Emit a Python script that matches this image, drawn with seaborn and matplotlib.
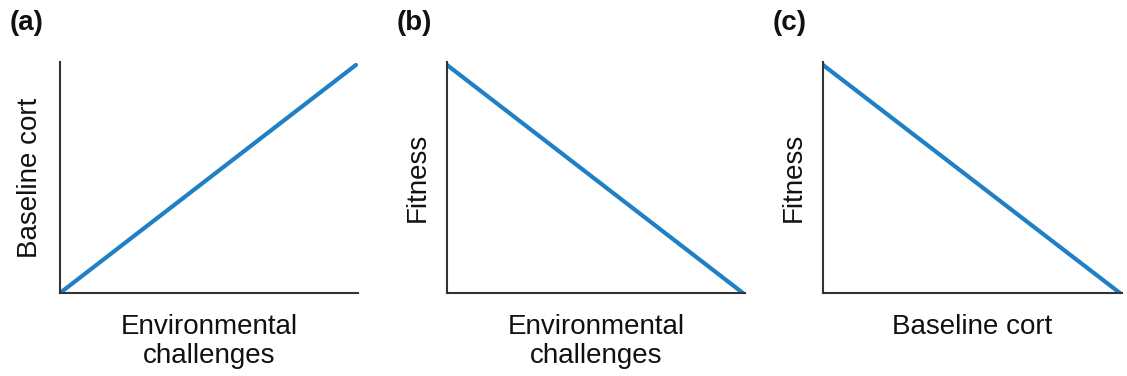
import matplotlib
matplotlib.use("Agg")
import matplotlib.pyplot as plt
import seaborn as sns
import pandas as pd

sns.set_theme(style="white")
plt.rcParams["font.family"] = ["Liberation Sans", "DejaVu Sans"]
plt.rcParams["text.color"] = "#111111"
plt.rcParams["axes.labelcolor"] = "#111111"

# Conceptual relationships: two end points per panel (relative units)
x_env = [0.0, 1.0]
cort_a = [0.0, 1.0]
fitness_b = [1.0, 0.0]
x_cort = [0.0, 1.0]
fitness_c = [1.0, 0.0]

panel_tags = ["(a)", "(b)", "(c)"]
x_labels = ["Environmental\nchallenges", "Environmental\nchallenges", "Baseline cort"]
y_labels = ["Baseline cort", "Fitness", "Fitness"]

line_color = "#1f80c6"
spine_color = "#333333"

fig = plt.figure(figsize=(11.27, 3.76), dpi=100)
W, H = 1127, 376
boxes = [(60, 358), (447, 745), (823, 1122)]
top_px, bot_px = 62, 293

panels = [
    pd.DataFrame({"x": x_env, "y": cort_a}),
    pd.DataFrame({"x": x_env, "y": fitness_b}),
    pd.DataFrame({"x": x_cort, "y": fitness_c}),
]
tag_x = [10, 397, 773]

for i, (df, (l, r)) in enumerate(zip(panels, boxes)):
    ax = fig.add_axes([l / W, (H - bot_px) / H, (r - l) / W, (bot_px - top_px) / H])
    sns.lineplot(data=df, x="x", y="y", ax=ax, color=line_color, linewidth=3)
    ax.set_xlim(0, 1.007)
    ax.set_ylim(0, 1.013)
    ax.set_xticks([])
    ax.set_yticks([])
    for side in ["top", "right"]:
        ax.spines[side].set_visible(False)
    for side in ["left", "bottom"]:
        ax.spines[side].set_color(spine_color)
        ax.spines[side].set_linewidth(1.5)
    ax.set_xlabel(x_labels[i], fontsize=20, labelpad=15, linespacing=1.15)
    ax.set_ylabel(y_labels[i], fontsize=20, labelpad=12)
    fig.text(tag_x[i] / W, 1 - 10 / H, panel_tags[i], fontsize=20,
             fontweight="bold", ha="left", va="top")

fig.savefig("out.png", dpi=100)
